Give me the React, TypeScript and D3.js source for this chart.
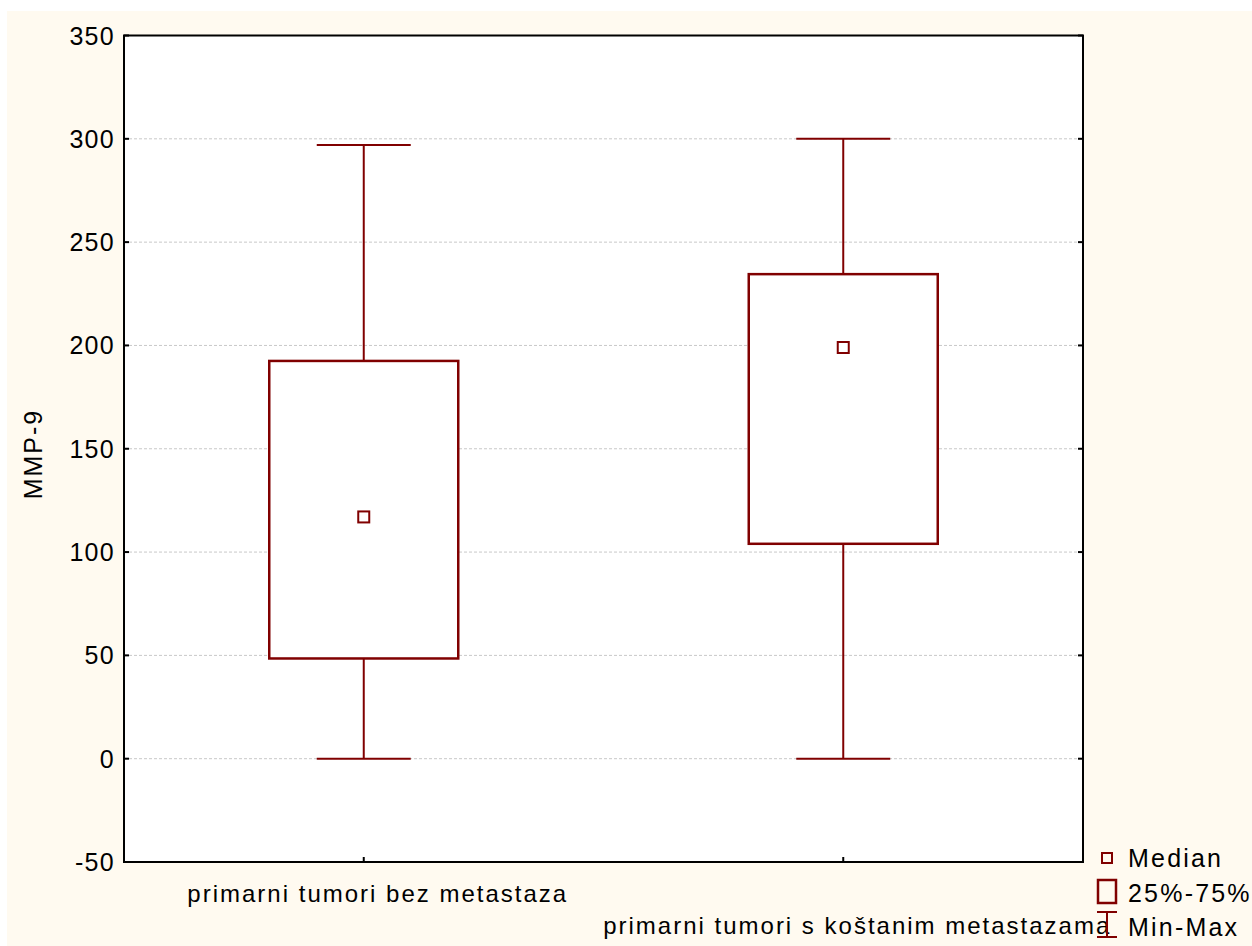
import React from "react";
import * as d3 from "d3";

const categories = ["primarni tumori bez metastaza", "primarni tumori s koštanim metastazama"];
const minValues = [0, 0];
const q1Values = [48.5, 104];
const medianValues = [117, 199];
const q3Values = [192.5, 234.5];
const maxValues = [297, 300];
const yTicks = [-50, 0, 50, 100, 150, 200, 250, 300, 350];
const legendItems = ["Median", "25%-75%", "Min-Max"];

const W = 1252;
const H = 946;
const M = { left: 124, right: 1083, top: 35.5, bottom: 862 };
const RED = "#800000";
const FONT = "'Liberation Sans', Arial, sans-serif";

export default function App() {
  const y = d3.scaleLinear().domain([-50, 350]).range([M.bottom, M.top]);
  const x = d3.scaleBand().domain(categories).range([M.left, M.right]).padding(0);
  const cx = (c: string) => (x(c) as number) + x.bandwidth() / 2;
  const boxW = 189;
  const capW = 94;
  const med = 11;

  return (
    <svg width={W} height={H} style={{ position: "absolute", left: 0, top: 0, background: "#fff" }}>
      <rect x={7} y={11} width={W - 7} height={H - 11} fill="#fffaf0" />
      <rect x={M.left} y={M.top} width={M.right - M.left} height={M.bottom - M.top} fill="#fff" />
      {yTicks.slice(1, -1).map((t) => (
        <line key={"g" + t} x1={M.left} x2={M.right} y1={y(t)} y2={y(t)} stroke="#c8c8c8" strokeWidth={1} strokeDasharray="3,2" />
      ))}
      {categories.map((c, i) => {
        const xc = cx(c);
        return (
          <g key={c}>
            <line x1={xc} x2={xc} y1={y(maxValues[i])} y2={y(q3Values[i])} stroke={RED} strokeWidth={2} />
            <line x1={xc} x2={xc} y1={y(q1Values[i])} y2={y(minValues[i])} stroke={RED} strokeWidth={2} />
            <line x1={xc - capW / 2} x2={xc + capW / 2} y1={y(maxValues[i])} y2={y(maxValues[i])} stroke={RED} strokeWidth={2} />
            <line x1={xc - capW / 2} x2={xc + capW / 2} y1={y(minValues[i])} y2={y(minValues[i])} stroke={RED} strokeWidth={2} />
            <rect x={xc - boxW / 2} y={y(q3Values[i])} width={boxW} height={y(q1Values[i]) - y(q3Values[i])} fill="#fff" stroke={RED} strokeWidth={2.5} />
            <rect x={xc - med / 2} y={y(medianValues[i]) - med / 2} width={med} height={med} fill="#fff" stroke={RED} strokeWidth={2} />
          </g>
        );
      })}
      <rect x={M.left} y={M.top} width={M.right - M.left} height={M.bottom - M.top} fill="none" stroke="#000" strokeWidth={2} />
      {yTicks.map((t) => (
        <g key={"t" + t}>
          <line x1={M.left} x2={M.left + 5} y1={y(t)} y2={y(t)} stroke="#000" strokeWidth={2} />
          <line x1={M.right - 5} x2={M.right} y1={y(t)} y2={y(t)} stroke="#000" strokeWidth={2} />
          <text x={115} y={y(t) + 9} textAnchor="end" fontFamily={FONT} fontSize={25} letterSpacing={1.3} fill="#000">
            {t}
          </text>
        </g>
      ))}
      {categories.map((c, i) => (
        <g key={"x" + c}>
          <line x1={cx(c)} x2={cx(c)} y1={M.bottom} y2={M.bottom - 5} stroke="#000" strokeWidth={2} />
          <text x={cx(c) + 14} y={i === 0 ? 902 : 934} textAnchor="middle" fontFamily={FONT} fontSize={24} letterSpacing={2} fill="#000">
            {c}
          </text>
        </g>
      ))}
      <text transform="translate(42,454) rotate(-90)" textAnchor="middle" fontFamily={FONT} fontSize={25} letterSpacing={2} fill="#000">
        MMP-9
      </text>
      <g>
        <rect x={1102} y={853} width={10} height={10} fill="none" stroke={RED} strokeWidth={2} />
        <rect x={1098} y={880} width={18} height={23} fill="none" stroke={RED} strokeWidth={2.5} />
        <line x1={1107} x2={1107} y1={912} y2={937} stroke={RED} strokeWidth={2} />
        <line x1={1097} x2={1117} y1={912} y2={912} stroke={RED} strokeWidth={2} />
        <line x1={1097} x2={1117} y1={937} y2={937} stroke={RED} strokeWidth={2} />
        {legendItems.map((l, i) => (
          <text key={l} x={1128} y={867 + i * 34.5} fontFamily={FONT} fontSize={25} letterSpacing={2.2} fill="#000">
            {l}
          </text>
        ))}
      </g>
    </svg>
  );
}
